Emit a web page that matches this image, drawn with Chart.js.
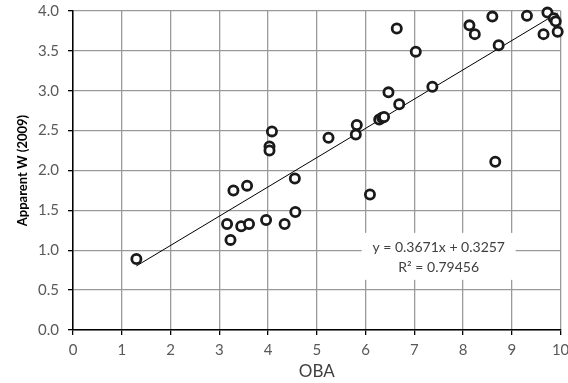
<!DOCTYPE html>
<html><head><meta charset="utf-8">
<script src="https://cdn.jsdelivr.net/npm/chart.js@4/dist/chart.umd.min.js"></script>
<style>html,body{margin:0;padding:0;background:#fff;}#wrap{width:568px;height:383px;position:relative;}</style>
</head><body><div id="wrap"><canvas id="c" width="568" height="383"></canvas></div>
<script>
const obaX = [1.30, 3.16, 3.23, 3.29, 3.45, 3.57, 3.61, 3.96, 4.03, 4.03, 4.08, 4.34, 4.55, 4.56, 5.24, 5.80, 5.82, 6.09, 6.28, 6.34, 6.38, 6.47, 6.64, 6.69, 7.03, 7.37, 8.13, 8.24, 8.60, 8.66, 8.73, 9.31, 9.65, 9.73, 9.86, 9.90, 9.94];
const apparentW = [0.89, 1.33, 1.13, 1.75, 1.30, 1.81, 1.33, 1.38, 2.30, 2.25, 2.49, 1.33, 1.90, 1.48, 2.41, 2.45, 2.57, 1.70, 2.64, 2.66, 2.67, 2.98, 3.78, 2.83, 3.49, 3.05, 3.82, 3.71, 3.93, 2.11, 3.57, 3.94, 3.71, 3.98, 3.91, 3.87, 3.74];
const trendSlope = 0.3671;
const trendIntercept = 0.3257;
const trendR2 = 0.79456;
const xTicks = [0,1,2,3,4,5,6,7,8,9,10];
const yTicks = [0,0.5,1,1.5,2,2.5,3,3.5,4];

const scatterPts = obaX.map((x,i)=>({x:x,y:apparentW[i]}));
const xMin = Math.min(...obaX), xMax = Math.max(...obaX);
const trendPts = [xMin, xMax].map(x=>({x:x,y:trendSlope*x+trendIntercept}));

const FONT = "Lato, 'Open Sans', sans-serif";

const eqPlugin = {
  id:'eq',
  afterDatasetsDraw(chart){
    const ctx = chart.ctx, xs = chart.scales.x, ys = chart.scales.y;
    const cx = xs.getPixelForValue(7.5);
    const y1 = ys.getPixelForValue(1.03), y2 = ys.getPixelForValue(0.78);
    ctx.save();
    ctx.fillStyle = '#fff';
    ctx.fillRect(cx-77, y1-15, 154, 47);
    ctx.fillStyle = '#404040';
    ctx.font = "14px " + FONT;
    ctx.textAlign='center'; ctx.textBaseline='middle';
    ctx.fillText('y = ' + trendSlope + 'x + ' + trendIntercept, cx, y1);
    ctx.fillText('R\u00B2 = ' + trendR2, cx, y2);
    ctx.restore();
  }
};

new Chart(document.getElementById('c'), {
  data:{
    datasets:[
      {type:'line', data:trendPts, borderColor:'#000', borderWidth:1, pointRadius:0, fill:false, order:2},
      {type:'scatter', data:scatterPts, pointStyle:'circle', pointRadius:4.6, borderWidth:2.8,
       borderColor:'#1a1a1a', backgroundColor:'#fff', order:1, clip:false}
    ]
  },
  options:{
    responsive:false, animation:false,
    layout:{padding:{top:11,right:6,left:0,bottom:0}},
    plugins:{legend:{display:false}, tooltip:{enabled:false}},
    scales:{
      x:{type:'linear', min:0, max:10,
        afterBuildTicks(s){ s.ticks = xTicks.map(v=>({value:v})); },
        afterFit(s){ s.height = 53; s.paddingLeft = 0; s.paddingRight = 0; },
        grid:{color:'#9a9a9a', lineWidth:1.3, tickColor:'#000', tickLength:5},
        border:{color:'#000', width:1.5},
        ticks:{color:'#595959', font:{family:FONT, size:15}, padding:6},
        title:{display:true, text:'OBA', color:'#404040', font:{family:FONT, size:17}, padding:{top:0,bottom:1}}
      },
      y:{type:'linear', min:0, max:4,
        afterBuildTicks(s){ s.ticks = yTicks.map(v=>({value:v})); },
        afterFit(s){ s.width = 73; s.paddingTop = 0; s.paddingBottom = 0; },
        grid:{color:'#9a9a9a', lineWidth:1.3, tickColor:'#000', tickLength:5},
        border:{color:'#000', width:1.5},
        ticks:{color:'#595959', font:{family:FONT, size:15}, padding:9, callback:v=>Number(v).toFixed(1)},
        title:{display:true, text:'Apparent W (2009)', color:'#000', font:{family:FONT, size:13, weight:'bold'}, padding:{top:15,bottom:0}}
      }
    }
  },
  plugins:[eqPlugin]
});
</script></body></html>
